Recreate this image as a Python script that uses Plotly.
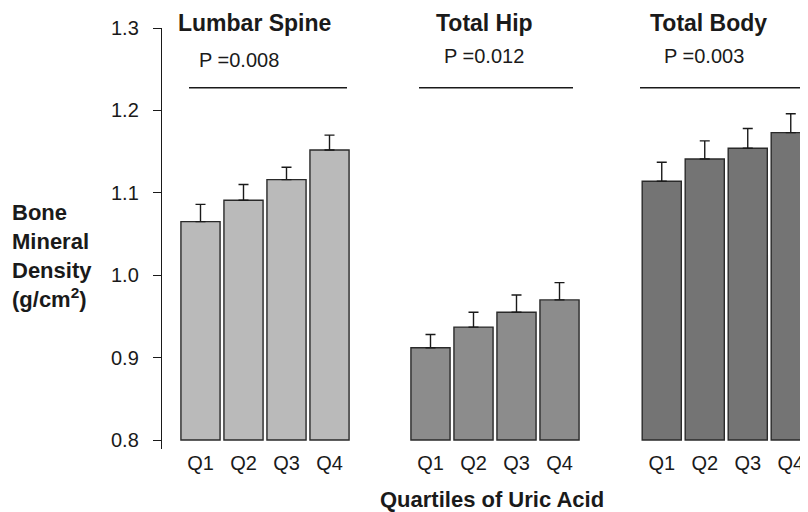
import plotly.graph_objects as go

# ---- data ----
quartiles = ["Q1", "Q2", "Q3", "Q4"]
sites = ["Lumbar Spine", "Total Hip", "Total Body"]
p_labels = ["P =0.008", "P =0.012", "P =0.003"]
lumbar_mean = [1.065, 1.091, 1.116, 1.152]
lumbar_se = [0.021, 0.019, 0.015, 0.018]
hip_mean = [0.912, 0.937, 0.955, 0.970]
hip_se = [0.016, 0.018, 0.021, 0.021]
body_mean = [1.114, 1.141, 1.154, 1.173]
body_se = [0.023, 0.022, 0.024, 0.023]
y_ticks = [0.8, 0.9, 1.0, 1.1, 1.2, 1.3]
base_value = 0.8
p_line_level = 1.2275

# page has an 8px body margin; the figure is sized to fill the rest
OFF = 8
W, H = 808 - OFF, 512 - OFF
REG = "Liberation Sans, Arial, sans-serif"
BOLD = "Liberation Sans, Arial, sans-serif"
INK = "#1a1a1a"

means = [lumbar_mean, hip_mean, body_mean]
ses = [lumbar_se, hip_se, body_se]
colors = ["#bababa", "#8c8c8c", "#747474"]
xaxes = ["x", "x2", "x3"]

fig = go.Figure()
for m, s, c, xa in zip(means, ses, colors, xaxes):
    fig.add_trace(go.Bar(
        x=quartiles,
        y=[v - base_value for v in m],
        base=base_value,
        xaxis=xa, yaxis="y",
        marker=dict(color=c, line=dict(color="#2a2a2a", width=1.4)),
        error_y=dict(type="data", array=s, arrayminus=[0] * len(s),
                     symmetric=False, color=INK, thickness=1.4, width=5),
        showlegend=False,
    ))

def px(p):
    return min(1.0, (p - OFF) / W)

plot_top, plot_bot = 28, 449
plot_h = float(plot_bot - plot_top)

def py(p):
    return 1 - (p - plot_top) / plot_h

ax_common = dict(showline=False, ticks="", showgrid=False, zeroline=False,
                 tickfont=dict(family=REG, size=20, color=INK),
                 anchor="y", fixedrange=True, automargin=False)
fig.update_layout(
    width=W, height=H,
    margin=dict(l=0, r=0, t=plot_top - OFF, b=512 - plot_bot),
    paper_bgcolor="white", plot_bgcolor="white",
    bargap=0.09,
    xaxis=dict(domain=[px(179), px(351)], range=[-0.5, 3.5], **ax_common),
    xaxis2=dict(domain=[px(409), px(581)], range=[-0.5, 3.5], **ax_common),
    xaxis3=dict(domain=[px(640.25), 1.0], range=[-0.5, 3.401], **ax_common),
    yaxis=dict(range=[base_value - 9 / 824, 1.3], domain=[0, 1],
               anchor="free", position=px(161),
               showline=True, linecolor=INK, linewidth=1.4,
               ticks="outside", ticklen=8, tickwidth=1.3, tickcolor=INK,
               tickvals=y_ticks, tickformat=".1f",
               tickfont=dict(family=REG, size=20, color=INK),
               ticklabelstandoff=10,
               showgrid=False, zeroline=False, automargin=False),
)

# significance lines
line_spans = [(189, 347), (419, 573), (640, 808)]
for x0, x1 in line_spans:
    fig.add_shape(type="line", xref="paper", yref="y",
                  x0=px(x0), x1=px(x1), y0=p_line_level, y1=p_line_level,
                  line=dict(color=INK, width=1.3))

title_x = [254, 485, 708]
p_x = [239, 484.5, 704]
p_y = [60, 56, 56]
for t, tx, p, pxx, pyy in zip(sites, title_x, p_labels, p_x, p_y):
    fig.add_annotation(text=f"<b>{t}</b>", xref="paper", yref="paper",
                       x=px(tx), y=py(23), xanchor="center", yanchor="middle",
                       showarrow=False, font=dict(family=BOLD, size=23, color=INK))
    fig.add_annotation(text=p, xref="paper", yref="paper",
                       x=px(pxx), y=py(pyy), xanchor="center", yanchor="middle",
                       showarrow=False, font=dict(family=REG, size=20, color=INK))

ytitle_lines = ["Bone", "Mineral", "Density", "(g/cm<sup>2</sup>)"]
ytitle_y = [212, 241, 270, 298]
for ln, yy in zip(ytitle_lines, ytitle_y):
    fig.add_annotation(text=f"<b>{ln}</b>", xref="paper", yref="paper",
                       x=px(10), y=py(yy), xanchor="left", yanchor="middle",
                       showarrow=False, font=dict(family=BOLD, size=22, color=INK))

fig.add_annotation(text="<b>Quartiles of Uric Acid</b>", xref="paper", yref="paper",
                   x=px(491.5), y=py(499), xanchor="center", yanchor="middle",
                   showarrow=False, font=dict(family=BOLD, size=22, color=INK))

fig.write_html("out.html")
